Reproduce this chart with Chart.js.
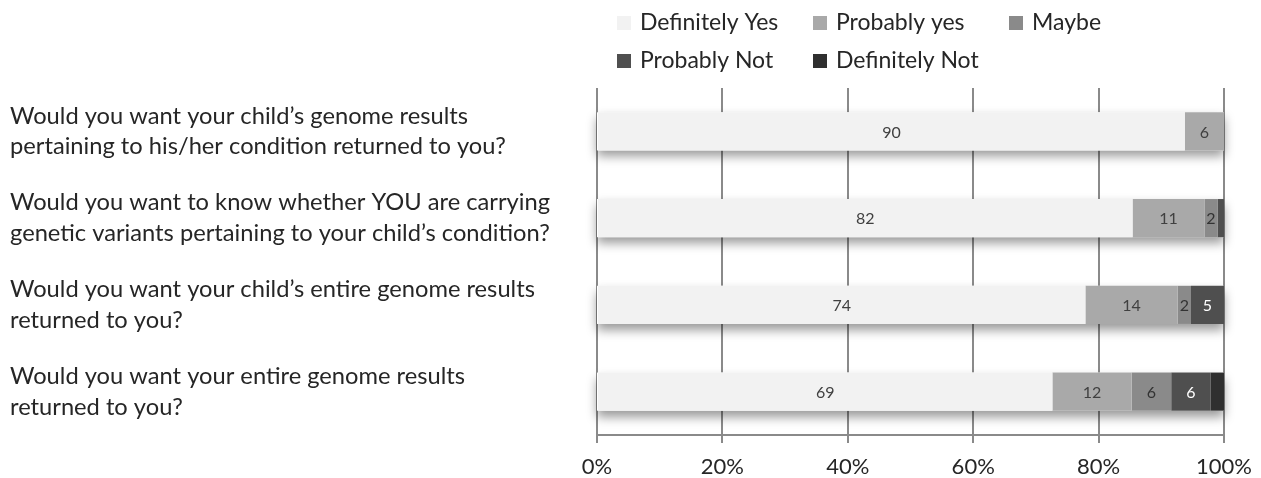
<!DOCTYPE html>
<html>
<head>
<meta charset="utf-8">
<script src="https://cdn.jsdelivr.net/npm/chart.js@4/dist/chart.umd.min.js"></script>
<style>
  html, body { margin: 0; padding: 0; background: #fff; }
  #wrap { width: 1261px; height: 478px; position: relative; }
</style>
</head>
<body>
<div id="wrap"><canvas id="c" width="1261" height="478"></canvas></div>
<script>
// Survey questions (one bar each)
const questions = [
  ["Would you want your child\u2019s genome results", "pertaining to his/her condition returned to you?"],
  ["Would you want to know whether YOU are carrying", "genetic variants pertaining to your child\u2019s condition?"],
  ["Would you want your child\u2019s entire genome results", "returned to you?"],
  ["Would you want your entire genome results", "returned to you?"]
];

// Response counts per answer, one value per question
const definitelyYes = [90, 82, 74, 69];
const probablyYes   = [6, 11, 14, 12];
const maybe         = [0, 2, 2, 6];
const probablyNot   = [0, 1, 5, 6];
const definitelyNot = [0, 0, 0, 2];

const answerNames  = ["Definitely Yes", "Probably yes", "Maybe", "Probably Not", "Definitely Not"];
const answerColors = ["#f2f2f2", "#a9a9a9", "#8a8a8a", "#4f4f4f", "#2f2f2f"];
const labelColors  = ["#404040", "#404040", "#333333", "#ffffff", "#ffffff"];

const xTicks = [0, 20, 40, 60, 80, 100];

const counts = [definitelyYes, probablyYes, maybe, probablyNot, definitelyNot];
const rowTotals = questions.map((_, i) => counts.reduce((s, arr) => s + arr[i], 0));

const FONT = "Lato, 'Open Sans', sans-serif";

// Drop shadow under each full bar, drawn before the segments
const barShadow = {
  id: 'barShadow',
  beforeDatasetsDraw(chart) {
    const ctx = chart.ctx;
    const meta0 = chart.getDatasetMeta(0);
    const xs = chart.scales.x;
    ctx.save();
    meta0.data.forEach((bar) => {
      const h = bar.height;
      const left = xs.getPixelForValue(0);
      const right = xs.getPixelForValue(100);
      ctx.shadowColor = 'rgba(0,0,0,0.4)';
      ctx.shadowBlur = 10;
      ctx.shadowOffsetX = 0;
      ctx.shadowOffsetY = 6;
      ctx.fillStyle = '#ffffff';
      ctx.fillRect(left, bar.y - h / 2, right - left, h);
    });
    ctx.restore();
  }
};

// Count labels inside segments
const segmentLabels = {
  id: 'segmentLabels',
  afterDatasetsDraw(chart) {
    const ctx = chart.ctx;
    ctx.save();
    ctx.font = "16px " + FONT;
    ctx.textAlign = 'center';
    ctx.textBaseline = 'middle';
    chart.data.datasets.forEach((ds, di) => {
      if (di === 4) return;
      const meta = chart.getDatasetMeta(di);
      meta.data.forEach((bar, i) => {
        const v = ds.raw[i];
        if (v < 2) return;
        const x = (bar.base + bar.x) / 2;
        ctx.fillStyle = labelColors[di];
        ctx.fillText(String(v), x, bar.y + 1);
      });
    });
    ctx.restore();
  }
};

// Legend laid out in a fixed three-column grid above the plot
const gridLegend = {
  id: 'gridLegend',
  afterDraw(chart) {
    const ctx = chart.ctx;
    const x0 = chart.chartArea.left + 20;
    const colW = 196;
    const rowYs = [23, 61];
    ctx.save();
    ctx.font = "23px " + FONT;
    ctx.textBaseline = 'middle';
    ctx.textAlign = 'left';
    chart.data.datasets.forEach((ds, i) => {
      const col = i % 3, row = Math.floor(i / 3);
      const x = x0 + col * colW;
      const y = rowYs[row];
      ctx.fillStyle = ds.backgroundColor;
      ctx.fillRect(x, y - 7, 14, 14);
      ctx.fillStyle = '#262626';
      ctx.fillText(ds.label, x + 23, y);
    });
    ctx.restore();
  }
};

const datasets = counts.map((arr, k) => ({
  label: answerNames[k],
  raw: arr,
  data: arr.map((v, i) => v / rowTotals[i] * 100),
  backgroundColor: answerColors[k],
  borderWidth: 0,
  barPercentage: 0.44,
  categoryPercentage: 1.0
}));

new Chart(document.getElementById('c'), {
  type: 'bar',
  data: { labels: questions, datasets },
  plugins: [barShadow, segmentLabels, gridLegend],
  options: {
    indexAxis: 'y',
    responsive: false,
    animation: false,
    layout: { padding: { top: 88, left: 10, right: 37, bottom: 0 } },
    plugins: {
      legend: { display: false },
      tooltip: { enabled: false }
    },
    scales: {
      x: {
        stacked: true,
        min: 0,
        max: 100,
        afterBuildTicks(scale) { scale.ticks = xTicks.map(v => ({ value: v })); },
        afterFit(scale) {
          scale.height = 43;
          scale.paddingLeft = 0;
          scale.paddingRight = 0;
        },
        grid: {
          color: '#8a8a8a',
          lineWidth: 2,
          drawTicks: true,
          tickLength: 8,
          tickColor: '#8a8a8a'
        },
        border: { display: true, color: '#8a8a8a', width: 2 },
        ticks: {
          callback: (v) => v + '%',
          font: { family: FONT, size: 22 },
          color: '#262626',
          padding: 11,
          maxRotation: 0
        }
      },
      y: {
        stacked: true,
        grid: { display: false },
        border: { display: false },
        afterFit(scale) { scale.width = 587; },
        ticks: {
          crossAlign: 'far',
          font: { family: FONT, size: 23.7, lineHeight: 1.3 },
          color: '#262626',
          padding: 0
        }
      }
    }
  }
});
</script>
</body>
</html>
